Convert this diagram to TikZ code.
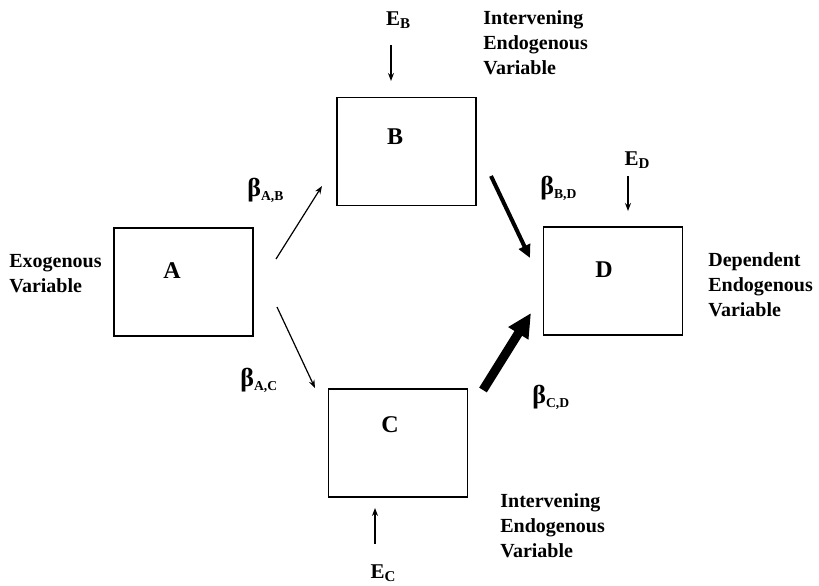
\documentclass[tikz,border=0pt]{standalone}
\usepackage{fontspec}
\setmainfont{Liberation Serif}
\usepackage{tikz}
\usetikzlibrary{positioning,arrows.meta,calc}

\newcommand{\coef}[1]{{\fontsize{13}{14}\selectfont β}\raisebox{-0.45ex}{\fontsize{6.8}{7}\selectfont #1}}
\newcommand{\err}[1]{E\raisebox{-0.35ex}{\fontsize{7.5}{8}\selectfont #1}}

\begin{document}
\begin{tikzpicture}[x=0.5pt, y=-0.5pt,
  >={Stealth[length=4pt,width=3pt]},
  box/.style  ={draw, line width=.75pt, minimum width=69.5pt, minimum height=54pt,
                inner sep=0pt},
  varname/.style={font=\fontsize{12}{14}\selectfont\bfseries, inner sep=0pt},
  txt/.style  ={font=\fontsize{10}{12.5}\selectfont\bfseries, align=left,
                inner sep=0pt, anchor=base west},
  cf/.style   ={font=\bfseries, inner sep=0pt, anchor=west},
  el/.style   ={font=\fontsize{10.5}{12}\selectfont\bfseries, inner sep=0pt},
  thinarr/.style ={->, line width=.6pt},
  midarr/.style  ={-{Triangle[length=6.5pt,width=6pt]}, line width=2pt},
  fatarr/.style  ={-{Triangle[length=12pt,width=11pt]}, line width=4.5pt}]

  \useasboundingbox (0,0) rectangle (819,585);

  % --- boxes -------------------------------------------------------------
  \node[box] (A) at (183.5,282) {};
  \node[box] (B) at (406.5,151.5) {};
  \node[box] (C) at (398,443) {};
  \node[box] (D) at (613,281) {};

  \node[varname] (Alab) at (172,271) {A};
  \node[varname] (Blab) at (395,137) {B};
  \node[varname] (Clab) at (390,425) {C};
  \node[varname] (Dlab) at (604,270) {D};

  % --- side texts (anchored at the last line) ----------------------------
  \node[txt] (exo) at (9,292)   {Exogenous\\Variable};
  \node[txt] (dep) at (708,316) {Dependent\\Endogenous\\Variable};
  \node[txt] (intB) at (483,74)  {Intervening\\Endogenous\\Variable};
  \node[txt] (intC) at (500,557) {Intervening\\Endogenous\\Variable};

  % --- error terms -------------------------------------------------------
  \node[el] (EB) at (398,20)  {\err{B}};
  \node[el] (ED) at (637,160) {\err{D}};
  \node[el] (EC) at (383,573) {\err{C}};

  \coordinate (eb1) at (391,45);  \coordinate (eb2) at (391,81);
  \coordinate (ed1) at (628,176); \coordinate (ed2) at (628,211);
  \coordinate (ec1) at (375,544); \coordinate (ec2) at (375,508);

  \draw[thinarr] (eb1) -- (eb2);
  \draw[thinarr] (ed1) -- (ed2);
  \draw[thinarr] (ec1) -- (ec2);

  % --- paths -------------------------------------------------------------
  \coordinate (ab1) at (276,259); \coordinate (ab2) at (322,186);
  \coordinate (ac1) at (277,307); \coordinate (ac2) at (315,388);
  \coordinate (bd1) at (491,176); \coordinate (bd2) at (530,258);
  \coordinate (cd1) at (483,390); \coordinate (cd2) at (531,313);

  \draw[thinarr] (ab1) -- (ab2);
  \draw[thinarr] (ac1) -- (ac2);
  \draw[midarr]  (bd1) -- (bd2);
  \draw[fatarr]  (cd1) -- (cd2);

  \node[cf] (bAB) at (247,190) {\coef{A,B}};
  \node[cf] (bAC) at (240,380) {\coef{A,C}};
  \node[cf] (bBD) at (540,188) {\coef{B,D}};
  \node[cf] (bCD) at (532,397) {\coef{C,D}};
\end{tikzpicture}
\end{document}
